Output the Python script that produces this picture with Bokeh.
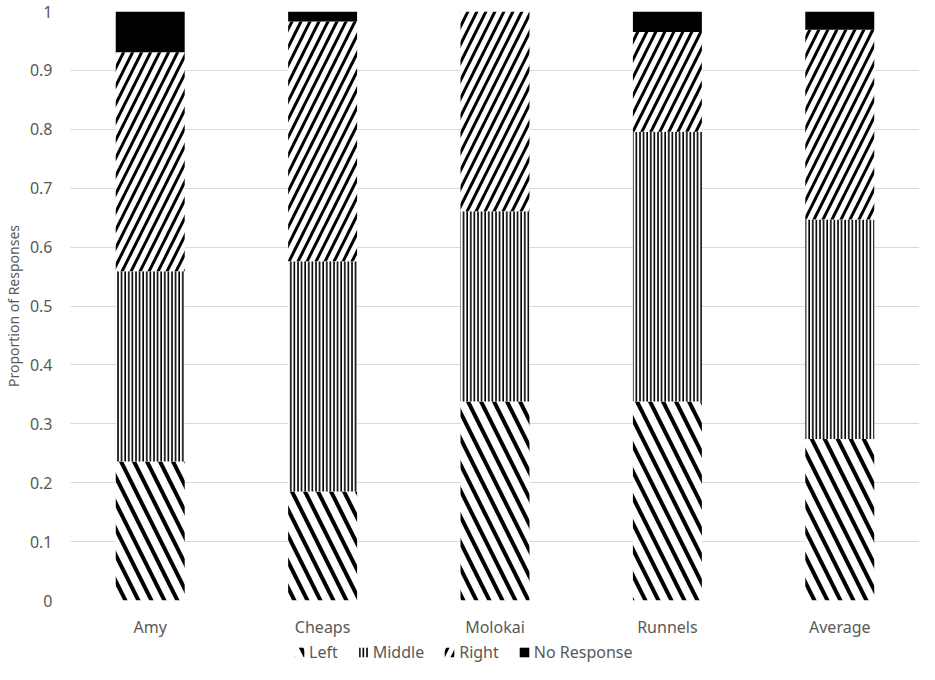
from bokeh.plotting import figure
from bokeh.models import ColumnDataSource, FixedTicker, Legend, LegendItem, FactorRange
from bokeh.layouts import column
from bokeh.transform import stack
from bokeh.embed import file_html
from bokeh.resources import INLINE

categories = ["Amy", "Cheaps", "Molokai", "Runnels", "Average"]
left = [0.236, 0.185, 0.338, 0.338, 0.274]
middle = [0.323, 0.391, 0.323, 0.458, 0.373]
right = [0.372, 0.407, 0.339, 0.169, 0.322]
no_response = [0.069, 0.017, 0.0, 0.035, 0.031]
series = ["Left", "Middle", "Right", "No Response"]
y_ticks = [0, 0.1, 0.2, 0.3, 0.4, 0.5, 0.6, 0.7, 0.8, 0.9, 1]

src = ColumnDataSource(dict(cat=categories, Left=left, Middle=middle,
                            Right=right, NoResp=no_response))
cols = ["Left", "Middle", "Right", "NoResp"]

FONT = "Noto Sans"
TXT = "#595959"

p = figure(x_range=FactorRange(*categories, range_padding=-0.015), y_range=(0, 1),
           width=919, height=640, output_backend="svg", toolbar_location=None,
           min_border_left=70, min_border_right=0, min_border_top=11,
           min_border_bottom=37)

styles = [
    dict(fill_color="white", hatch_pattern="\\", hatch_color="black", hatch_scale=26, hatch_weight=4),
    dict(fill_color="white", hatch_pattern="|", hatch_color="black", hatch_scale=3.6, hatch_weight=1.6),
    dict(fill_color="white", hatch_pattern="/", hatch_color="black", hatch_scale=18, hatch_weight=3),
    dict(fill_color="black"),
]

for i, c in enumerate(cols):
    p.vbar(x="cat", width=0.4, bottom=stack(*cols[:i]), top=stack(*cols[:i + 1]),
           source=src, line_color=None, **styles[i])

p.yaxis.ticker = FixedTicker(ticks=y_ticks)
p.yaxis.major_label_overrides = {0: "0", 1: "1"}
p.yaxis.axis_label = "Proportion of Responses"
p.yaxis.axis_label_text_font = FONT
p.yaxis.axis_label_text_font_size = "14px"
p.yaxis.axis_label_text_font_style = "normal"
p.yaxis.axis_label_text_color = TXT
p.yaxis.axis_label_standoff = 4
p.yaxis.major_label_standoff = 18

for ax in (p.xaxis, p.yaxis):
    ax.axis_line_color = None
    ax.major_tick_line_color = None
    ax.minor_tick_line_color = None
    ax.major_tick_out = 0
    ax.major_tick_in = 0
    ax.major_label_text_font = FONT
    ax.major_label_text_font_size = "16px"
    ax.major_label_text_color = TXT
p.xaxis.major_label_standoff = 15

p.xgrid.grid_line_color = None
p.ygrid.grid_line_color = "#d9d9d9"
p.ygrid.grid_line_width = 1
p.outline_line_color = None

# legend strip below the chart: hidden copies of the series supply the swatches
lg = figure(x_range=FactorRange(*categories), y_range=(0, 1),
            width=919, height=24, output_backend="svg", toolbar_location=None,
            x_axis_type=None, y_axis_type=None,
            min_border_left=0, min_border_right=0, min_border_top=0, min_border_bottom=0)
lg.outline_line_color = None
lg.grid.visible = False
swatches = []
for i, c in enumerate(cols):
    r = lg.vbar(x="cat", width=0.4, bottom=stack(*cols[:i]), top=stack(*cols[:i + 1]),
                source=src, line_color=None, **styles[i])
    r.visible = False
    swatches.append(r)

legend = Legend(items=[LegendItem(label=s, renderers=[r]) for s, r in zip(series, swatches)],
                orientation="horizontal", location=(223, 1), click_policy="none",
                inactive_fill_alpha=0,
                glyph_width=12, glyph_height=12, label_standoff=4, spacing=19,
                padding=0, margin=0, border_line_color=None, background_fill_alpha=0,
                label_text_font=FONT, label_text_font_size="16px", label_text_color=TXT)
lg.add_layout(legend, "center")

layout = column(p, lg, spacing=0)
open("out.html", "w").write(file_html(layout, INLINE))
